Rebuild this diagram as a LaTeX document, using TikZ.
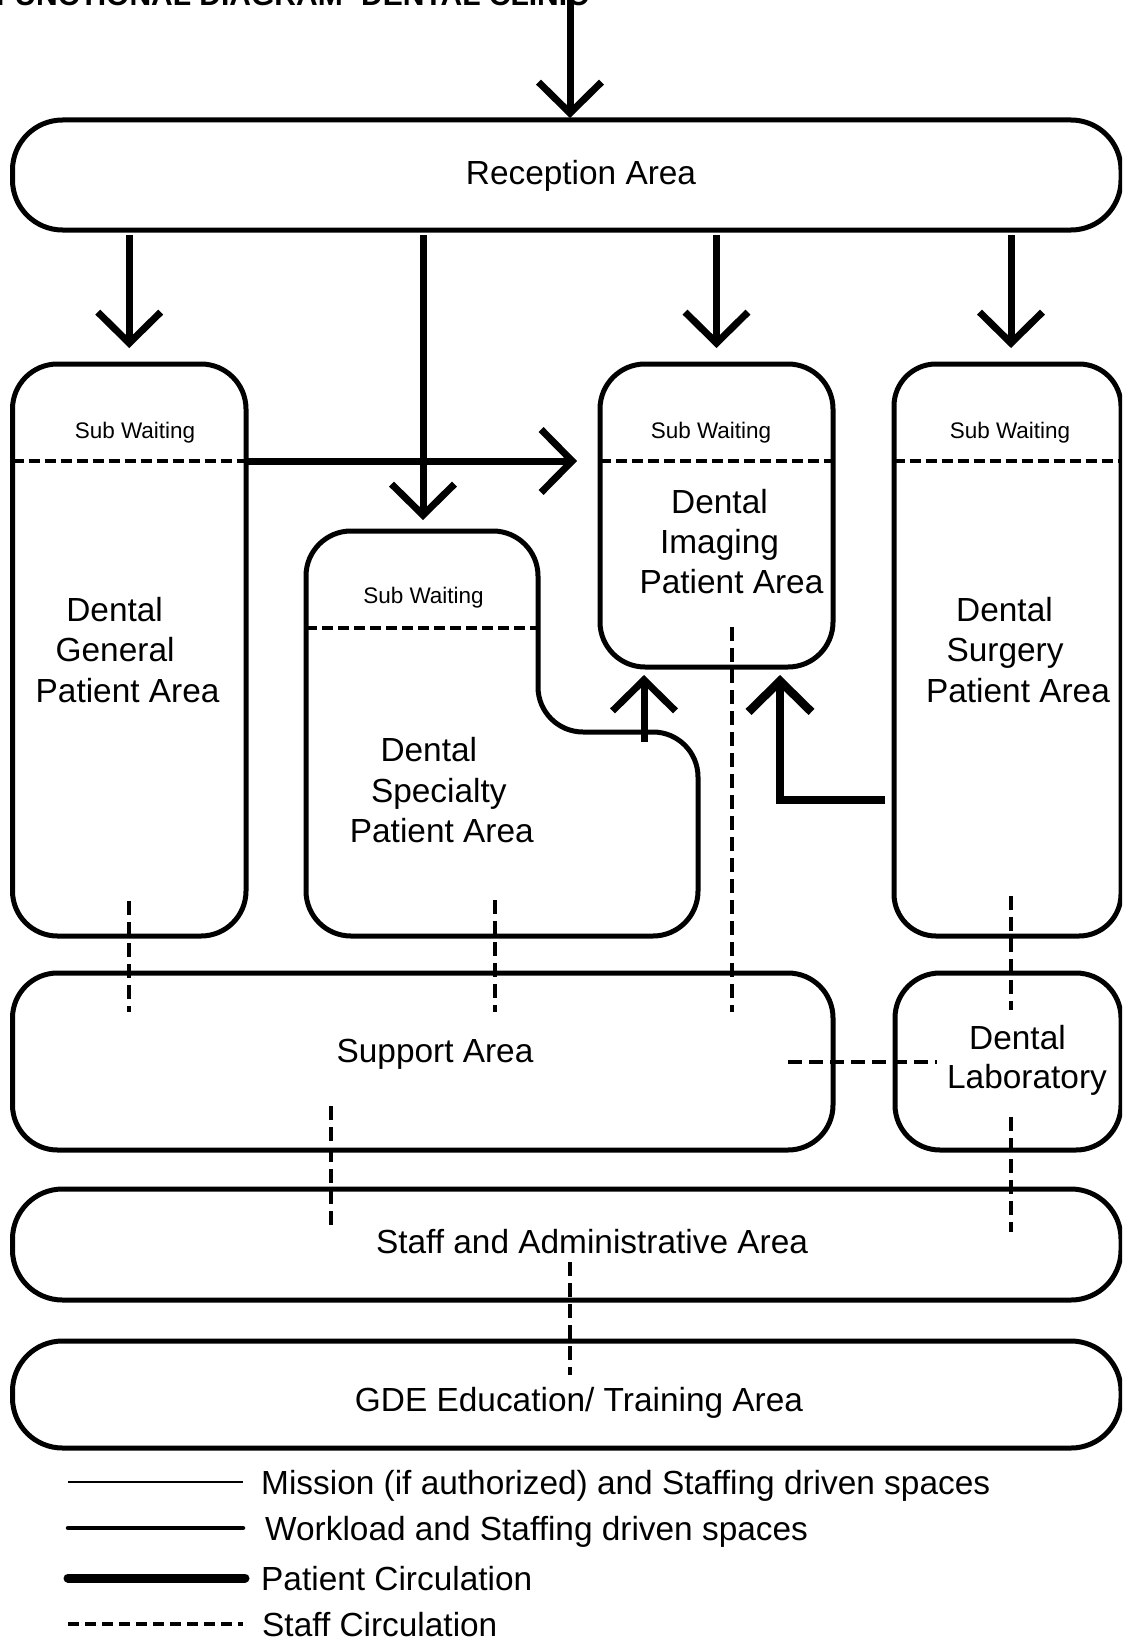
\documentclass[tikz,border=0pt]{standalone}
\usepackage{fontspec}
\setmainfont{Liberation Sans}
\usetikzlibrary{arrows.meta,calc}
\newcommand{\padR}[1]{\rule{#1}{0pt}}
\tikzset{
  box/.style={draw, line width=5pt, rectangle, inner sep=0pt, outer sep=0pt},
  bigtxt/.style={font=\fontsize{33.4}{40.3}\selectfont, inner sep=0pt, align=center, anchor=base},
  subtxt/.style={font=\fontsize{22.5}{27}\selectfont, inner sep=0pt, anchor=base},
  legtxt/.style={font=\fontsize{33.4}{40}\selectfont, inner sep=0pt, anchor=base west},
  patarrow/.style={line width=7pt, -{Straight Barb[length=31pt,width=63pt]}},
  staffline/.style={line width=4pt, dash pattern=on 14pt off 7pt},
  sepline/.style={line width=3.5pt, dash pattern=on 11pt off 5pt},
}
\begin{document}
\begin{tikzpicture}[x=1pt,y=-1pt]
\useasboundingbox (0,0) rectangle (1122,1640);
\clip (0,0) rectangle (1122,1640);
\fill[white] (0,0) rectangle (1122,1640);

% title (cut at top)
\node[font=\bfseries\fontsize{30}{36}\selectfont, anchor=base west, inner sep=0pt] (title) at (-4,6) {FUNCTIONAL DIAGRAM- DENTAL CLINIC};

% boxes
\node[box, rounded corners=50pt, minimum width=1108.5pt, minimum height=110pt] (rec) at (566.75,175) {};
\node[box, rounded corners=45pt, minimum width=233.5pt, minimum height=572pt] (gen) at (129.25,650) {};
\node[box, rounded corners=45pt, minimum width=233pt, minimum height=303pt] (img) at (716.5,515.5) {};
\node[box, rounded corners=42pt, minimum width=227pt, minimum height=572pt] (surg) at (1007.5,650) {};
\node[box, rounded corners=45pt, minimum width=820.5pt, minimum height=177pt] (sup) at (422.75,1061.5) {};
\node[box, rounded corners=45pt, minimum width=226pt, minimum height=177pt] (lab) at (1008,1061.5) {};
\node[box, rounded corners=50pt, minimum width=1108.5pt, minimum height=111pt] (staff) at (566.75,1244.5) {};
\node[box, rounded corners=50pt, minimum width=1108.5pt, minimum height=107pt] (gde) at (566.75,1394.5) {};

% specialty area (stepped shape)
\draw[line width=5pt, rounded corners=45pt] (306,700) -- (306,531) -- (538,531) -- (538,732) -- (698,732) -- (698,936) -- (306,936) -- cycle;
\coordinate (spectop) at (423,531);
\coordinate (specnotch) at (644,742);
\coordinate (specbot) at (495,936);
\coordinate (specsepL) at (306,628);
\coordinate (specsepR) at (538,628);

% helper coordinates
\coordinate (sw) at (0,461);
\coordinate (entry) at (570,-5);
\coordinate (ly) at (0,800);
\coordinate (sx) at (780,0);
\coordinate (rx) at (1011,0);
\coordinate (sx2) at (331,0);
\coordinate (imgdash) at (731.5,627);

% sub waiting separators
\draw[sepline] (gen.west |- sw) -- (gen.east |- sw);
\draw[sepline] (img.west |- sw) -- (img.east |- sw);
\draw[sepline] (surg.west |- sw) -- (surg.east |- sw);
\draw[sepline] (specsepL) -- (specsepR);

% texts
\node[bigtxt] (rectxt) at (581,184.5) {Reception Area};
\node[subtxt] (sw1) at (135,438) {Sub Waiting};
\node[subtxt] (sw2) at (711,438) {Sub Waiting};
\node[subtxt] (sw3) at (1010,438) {Sub Waiting};
\node[subtxt] (sw4) at (423.5,603) {Sub Waiting};
\node[bigtxt] (gentxt) at (127.6,702.2) {Dental\padR{26pt}\\General\padR{25pt}\\Patient Area};
\node[bigtxt] (imgtxt) at (731.5,593.6) {Dental\padR{24pt}\\Imaging\padR{24pt}\\Patient Area};
\node[bigtxt] (surgtxt) at (1018,702.2) {Dental\padR{27pt}\\Surgery\padR{26pt}\\Patient Area};
\node[bigtxt] (spectxt) at (441.8,842.4) {Dental\padR{26pt}\\Specialty\padR{6pt}\\Patient Area};
\node[bigtxt, font=\fontsize{33.4}{39}\selectfont] (labtxt) at (1027,1088) {Dental\padR{19pt}\\Laboratory};
\node[bigtxt] (suptxt) at (435,1062) {Support Area};
\node[bigtxt] (stafftxt) at (592,1253) {Staff and Administrative Area};
\node[bigtxt] (gdetxt) at (579,1411) {GDE Education/ Training Area};

% patient circulation
\draw[patarrow] (entry) -- ([yshift=2pt]rec.north -| entry);
\draw[patarrow] ([yshift=-5pt]rec.south -| gen.north) -- ([yshift=16pt]gen.north);
\draw[patarrow] ([yshift=-5pt]rec.south -| spectop) -- ([yshift=11pt]spectop);
\draw[patarrow] ([yshift=-5pt]rec.south -| img.north) -- ([yshift=16pt]img.north);
\draw[patarrow] ([yshift=-5pt]rec.south -| rx) -- ([yshift=16pt]surg.north -| rx);
\draw[patarrow] (gen.east |- sw) -- ([xshift=-23pt]img.west |- sw);
\draw[patarrow] (specnotch) -- ([yshift=-8pt]img.south -| specnotch);
\draw[patarrow, line width=8.5pt] ([xshift=-9pt]surg.west |- ly) -| ([yshift=-8pt]img.south -| sx);

% staff circulation
\draw[staffline] ([yshift=35pt]gen.south) -- ([yshift=-39pt]sup.north -| gen.south);
\draw[staffline] ([yshift=36pt]specbot) -- ([yshift=-39pt]sup.north -| specbot);
\draw[staffline] (imgdash) -- ([yshift=-39pt]sup.north -| imgdash);
\draw[staffline] ([yshift=40pt]surg.south -| rx) -- ([yshift=-37pt]lab.north -| rx);
\draw[staffline] ([yshift=33pt]lab.south -| rx) -- ([yshift=-43pt]staff.north -| rx);
\draw[staffline] ([yshift=44pt]sup.south -| sx2) -- ([yshift=-43pt]staff.north -| sx2);
\draw[staffline] ([yshift=38pt]staff.south -| entry) -- ([yshift=-34pt]gde.north -| entry);
\draw[staffline] ([xshift=-45pt]sup.east) -- ([xshift=42pt]lab.west);

% legend
\coordinate (l1a) at (68,1482); \coordinate (l1b) at (243,1482);
\coordinate (l2a) at (68,1528); \coordinate (l2b) at (243,1528);
\coordinate (l3a) at (68,1578); \coordinate (l3b) at (245,1578);
\coordinate (l4a) at (68,1624); \coordinate (l4b) at (243,1624);
\draw[line width=1.5pt] (l1a) -- (l1b);
\draw[line width=4.5pt, line cap=round] (l2a) -- (l2b);
\draw[line width=9pt, line cap=round] (l3a) -- (l3b);
\draw[line width=3.5pt, dash pattern=on 11pt off 6pt] (l4a) -- (l4b);
\node[legtxt] (lt1) at (261,1494) {Mission (if authorized) and Staffing driven spaces};
\node[legtxt] (lt2) at (265,1540) {Workload and Staffing driven spaces};
\node[legtxt] (lt3) at (261,1590) {Patient Circulation};
\node[legtxt] (lt4) at (262,1636) {Staff Circulation};
\end{tikzpicture}
\end{document}
